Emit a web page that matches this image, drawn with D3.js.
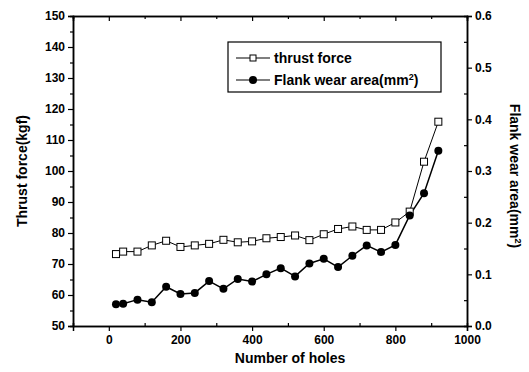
<!DOCTYPE html>
<html>
<head>
<meta charset="utf-8">
<script src="https://cdn.jsdelivr.net/npm/d3@7"></script>
<style>
  body { margin: 0; background: #fff; }
  text { font-family: "Liberation Sans", Arial, sans-serif; font-weight: bold; fill: #000; }
</style>
</head>
<body>
<script>
var holes = [20, 40, 80, 120, 160, 200, 240, 280, 320, 360, 400, 440, 480, 520, 560, 600, 640, 680, 720, 760, 800, 840, 880, 920];
var thrust = [73.2, 74.0, 74.0, 76.0, 77.5, 75.5, 76.0, 76.5, 77.8, 77.0, 77.3, 78.3, 78.7, 79.2, 77.7, 79.6, 81.3, 82.1, 81.0, 81.0, 83.4, 86.9, 103.0, 115.9];
var wear = [0.042, 0.043, 0.051, 0.046, 0.076, 0.062, 0.064, 0.087, 0.072, 0.091, 0.086, 0.100, 0.112, 0.096, 0.121, 0.130, 0.114, 0.136, 0.156, 0.143, 0.157, 0.214, 0.257, 0.339];
var xTicks = [0, 200, 400, 600, 800, 1000];
var yLeftTicks = [50, 60, 70, 80, 90, 100, 110, 120, 130, 140, 150];
var yRightTicks = [0.0, 0.1, 0.2, 0.3, 0.4, 0.5, 0.6];
var legendLabels = ['thrust force', 'Flank wear area(mm'];

var width = 529, height = 372;
var margin = {left: 73, right: 62, top: 16, bottom: 46};
var x0 = margin.left, x1 = width - margin.right;
var y0 = height - margin.bottom, y1 = margin.top;

var x = d3.scaleLinear().domain([-100, 1000]).range([x0, x1]);
var yL = d3.scaleLinear().domain([50, 150]).range([y0, y1]);
var yR = d3.scaleLinear().domain([0, 0.6]).range([y0, y1]);

var svg = d3.select('body').append('svg')
    .attr('width', width)
    .attr('height', height);

// minor ticks first
svg.append('g').attr('transform', `translate(0,${y0})`)
    .call(d3.axisTop(x).tickValues(d3.range(-100, 1000, 200)).tickSize(3).tickFormat(''));
svg.append('g').attr('transform', `translate(0,${y1})`)
    .call(d3.axisBottom(x).tickValues(d3.range(-100, 1000, 200)).tickSize(3).tickFormat(''));
svg.append('g').attr('transform', `translate(${x0},0)`)
    .call(d3.axisLeft(yL).tickValues(d3.range(55, 150, 10)).tickSize(3).tickFormat(''));
svg.append('g').attr('transform', `translate(${x1},0)`)
    .call(d3.axisLeft(yR).tickValues(d3.range(0.05, 0.6, 0.1)).tickSize(3).tickFormat(''));

// main axes
svg.append('g').attr('transform', `translate(0,${y0})`)
    .call(d3.axisBottom(x).tickValues(xTicks).tickSize(5).tickPadding(4).tickFormat(d3.format('d')));
svg.append('g').attr('transform', `translate(0,${y1})`)
    .call(d3.axisBottom(x).tickValues(xTicks).tickSize(5).tickFormat(''));
svg.append('g').attr('transform', `translate(${x0},0)`)
    .call(d3.axisLeft(yL).tickValues(yLeftTicks).tickSize(5).tickPadding(3));
svg.append('g').attr('transform', `translate(${x1},0)`)
    .call(d3.axisRight(yR).tickValues(yRightTicks).tickSize(5).tickPadding(3).tickFormat(d3.format('.1f')));

svg.selectAll('.domain').attr('stroke', '#000').attr('stroke-width', 1.5);
svg.selectAll('.tick line').attr('stroke', '#000').attr('stroke-width', 1.2);
svg.selectAll('.tick text')
    .attr('fill', '#000')
    .style('font-size', '12px')
    .style('font-family', '"Liberation Sans", Arial, sans-serif')
    .style('font-weight', 'bold');

// axis titles
svg.append('text')
    .attr('x', 290).attr('y', 363)
    .attr('text-anchor', 'middle')
    .style('font-size', '14px')
    .text('Number of holes');

svg.append('text')
    .attr('transform', `translate(27,${(y0 + y1) / 2}) rotate(-90)`)
    .attr('text-anchor', 'middle')
    .style('font-size', '14px')
    .text('Thrust force(kgf)');

var rt = svg.append('text')
    .attr('transform', 'translate(510,176) rotate(90)')
    .attr('text-anchor', 'middle')
    .style('font-size', '14px');
rt.append('tspan').text('Flank wear area(mm');
rt.append('tspan').attr('dy', -5).style('font-size', '9px').text('2');
rt.append('tspan').attr('dy', 5).text(')');

// series
var thrustData = holes.map(function(h, i) { return [h, thrust[i]]; });
var wearData = holes.map(function(h, i) { return [h, wear[i]]; });

svg.append('path')
    .datum(thrustData)
    .attr('fill', 'none').attr('stroke', '#000').attr('stroke-width', 1)
    .attr('d', d3.line().x(function(d) { return x(d[0]); }).y(function(d) { return yL(d[1]); }));

svg.append('path')
    .datum(wearData)
    .attr('fill', 'none').attr('stroke', '#000').attr('stroke-width', 1.5)
    .attr('d', d3.line().x(function(d) { return x(d[0]); }).y(function(d) { return yR(d[1]); }));

svg.selectAll('rect.sq')
    .data(thrustData)
    .enter()
        .append('rect')
        .attr('class', 'sq')
        .attr('x', function(d) { return x(d[0]) - 3.5; })
        .attr('y', function(d) { return yL(d[1]) - 3.5; })
        .attr('width', 7).attr('height', 7)
        .attr('fill', '#fff').attr('stroke', '#000').attr('stroke-width', 1);

svg.selectAll('circle.dot')
    .data(wearData)
    .enter()
        .append('circle')
        .attr('class', 'dot')
        .attr('cx', function(d) { return x(d[0]); })
        .attr('cy', function(d) { return yR(d[1]); })
        .attr('r', 4)
        .attr('fill', '#000');

// legend
var lg = svg.append('g').attr('transform', 'translate(228,42)');
lg.append('rect').attr('width', 213).attr('height', 50)
    .attr('fill', '#fff').attr('stroke', '#000').attr('stroke-width', 1.2);
[0, 1].forEach(function(i) {
    var yy = 16 + i * 22;
    lg.append('line').attr('x1', 8).attr('x2', 42).attr('y1', yy).attr('y2', yy)
        .attr('stroke', '#000').attr('stroke-width', 1.2);
    if (i === 0) {
        lg.append('rect').attr('x', 22).attr('y', yy - 3).attr('width', 6).attr('height', 6)
            .attr('fill', '#fff').attr('stroke', '#000');
    } else {
        lg.append('circle').attr('cx', 25).attr('cy', yy).attr('r', 4).attr('fill', '#000');
    }
    var t = lg.append('text').attr('x', 46).attr('y', yy + 5).style('font-size', '14px');
    t.append('tspan').text(legendLabels[i]);
    if (i === 1) {
        t.append('tspan').attr('dy', -5).style('font-size', '9px').text('2');
        t.append('tspan').attr('dy', 5).text(')');
    }
});
</script>
</body>
</html>
